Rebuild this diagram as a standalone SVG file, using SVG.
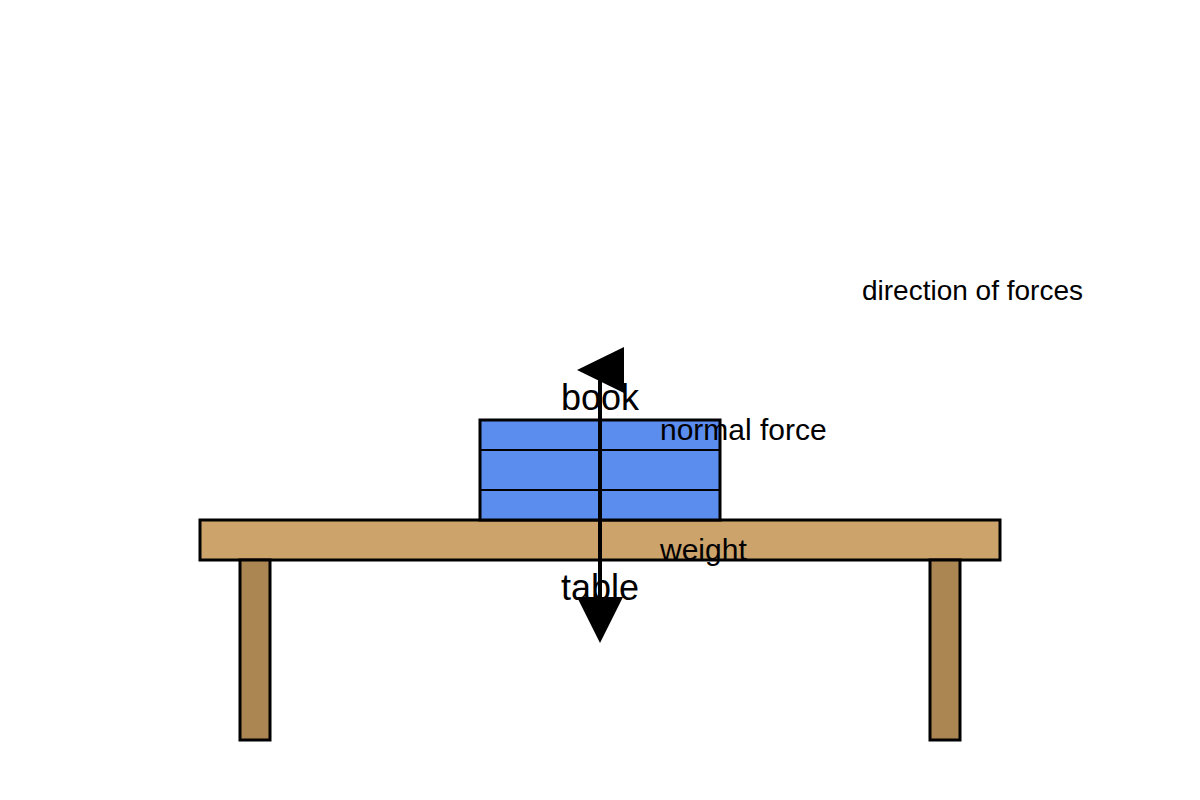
<svg xmlns="http://www.w3.org/2000/svg" width="1200" height="800" viewBox="0 0 1200 800">
<style>
.s{stroke:#000;stroke-width:3}
.t{font-family:"Liberation Sans",Arial,sans-serif;fill:#000}
</style>
<rect width="1200" height="800" fill="#fff"/>
<g id="table">
<rect class="s" x="200" y="520" width="800" height="40" fill="#cca36b"/>
<rect class="s" x="240" y="560" width="30" height="180" fill="#ab8552"/>
<rect class="s" x="930" y="560" width="30" height="180" fill="#ab8552"/>
</g>
<g id="book">
<rect class="s" x="480" y="420" width="240" height="100" fill="#5b8def"/>
<line x1="480" y1="450" x2="720" y2="450" stroke="#000" stroke-width="2"/>
<line x1="480" y1="490" x2="720" y2="490" stroke="#000" stroke-width="2"/>
</g>
<g id="connectors">
<line x1="600" y1="375" x2="600" y2="600" stroke="#000" stroke-width="4"/>
<polygon points="577,370 624,347 624,393" fill="#000"/>
<polygon points="577,597 623,597 600,643" fill="#000"/>
</g>
<g id="labels">
<text class="t" x="600" y="410" font-size="36" text-anchor="middle">book</text>
<text class="t" x="600" y="600" font-size="36" text-anchor="middle">table</text>
<text class="t" x="660" y="440" font-size="30">normal force</text>
<text class="t" x="660" y="560" font-size="30">weight</text>
<text class="t" x="862" y="300" font-size="28">direction of forces</text>
</g>
</svg>
